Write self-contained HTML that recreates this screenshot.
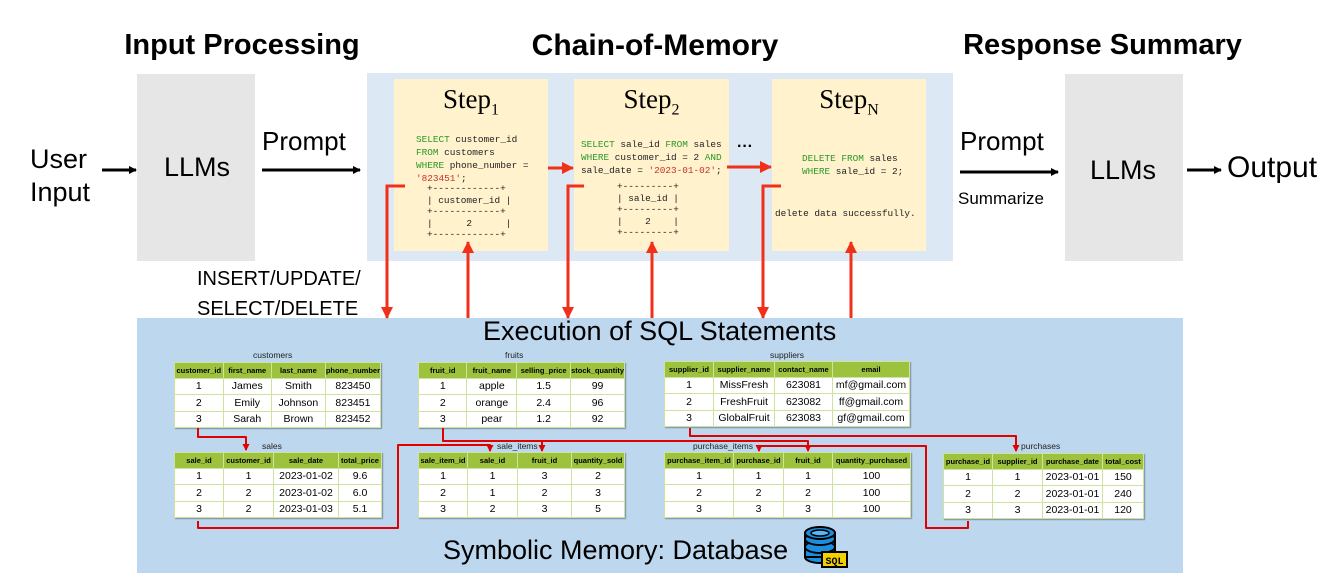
<!DOCTYPE html>
<html><head><meta charset="utf-8">
<style>
body{margin:0;width:1340px;height:586px;background:#fff;position:relative;overflow:hidden;font-family:"Liberation Sans",sans-serif}
.a{position:absolute}
.h{font-weight:bold;font-size:29px;color:#000;text-align:center}
.t{font-size:27px;color:#000}
.step{background:#fff2cc;position:absolute;top:79px;height:172px}
.st{font-family:"Liberation Serif",serif;font-size:27px;text-align:center;margin-top:5px}
.st sub{font-size:16px}
.code{font-family:"Liberation Mono",monospace;font-size:9.4px;line-height:13px;white-space:pre;color:#222;position:absolute}
.g{color:#2a9a2a}.r{color:#c8302a}
table{border-collapse:collapse;position:absolute;font-size:10.5px;box-shadow:1px 1px 1px rgba(0,0,0,.35)}
td{background:#fff;border:1px solid #cfe3a0;text-align:center;height:15.5px;padding:0}
th{background:#9dc23d;border:1px solid #cfe3a0;font-size:7.5px;height:14.5px;padding:0}
.tn{position:absolute;font-size:8.5px;color:#222}
</style></head><body>
<div class="a" style="left:367px;top:73px;width:586px;height:188px;background:#dde8f5"></div>
<div class="a" style="left:137px;top:74px;width:118px;height:187px;background:#e6e6e6"></div>
<div class="a" style="left:1065px;top:74px;width:118px;height:187px;background:#e6e6e6"></div>
<div class="a" style="left:137px;top:318px;width:1046px;height:255px;background:#bdd7ee"></div>

<div class="a h" style="left:92px;top:29px;width:300px">Input Processing</div>
<div class="a h" style="left:495px;top:29px;width:320px;font-size:30px">Chain-of-Memory</div>
<div class="a h" style="left:950px;top:29px;width:305px">Response Summary</div>

<div class="a t" style="left:30px;top:143px;line-height:33px">User<br>Input</div>
<div class="a t" style="left:164px;top:152px">LLMs</div>
<div class="a t" style="left:262px;top:126px;font-size:26px">Prompt</div>
<div class="a t" style="left:960px;top:126px;font-size:26px">Prompt</div>
<div class="a" style="left:958px;top:189px;font-size:17px">Summarize</div>
<div class="a t" style="left:1090px;top:155px">LLMs</div>
<div class="a t" style="left:1227px;top:151px;font-size:30px">Output</div>
<div class="a" style="left:197px;top:264px;font-size:20px;line-height:30px">INSERT/UPDATE/<br>SELECT/DELETE</div>
<div class="a" style="left:483px;top:316px;font-size:27px">Execution of SQL Statements</div>
<div class="a" style="left:443px;top:535px;font-size:27px">Symbolic Memory: Database</div>

<div class="step" style="left:394px;width:154px"><div class="st">Step<sub>1</sub></div></div>
<div class="step" style="left:574px;width:155px"><div class="st">Step<sub>2</sub></div></div>
<div class="step" style="left:772px;width:154px"><div class="st">Step<sub>N</sub></div></div>
<div class="code" style="left:416px;top:133px"><span class="g">SELECT</span> customer_id
<span class="g">FROM</span> customers
<span class="g">WHERE</span> phone_number =
<span class="r">'823451'</span>;</div>
<div class="code" style="left:427px;top:183px;line-height:11.5px">+------------+
| customer_id |
+------------+
|      2      |
+------------+</div>
<div class="code" style="left:581px;top:138px"><span class="g">SELECT</span> sale_id <span class="g">FROM</span> sales
<span class="g">WHERE</span> customer_id = 2 <span class="g">AND</span>
sale_date = <span class="r">'2023-01-02'</span>;</div>
<div class="code" style="left:617px;top:181px;line-height:11.5px">+---------+
| sale_id |
+---------+
|    2    |
+---------+</div>
<div class="code" style="left:802px;top:152px"><span class="g">DELETE FROM</span> sales
<span class="g">WHERE</span> sale_id = 2;</div>
<div class="code" style="left:775px;top:207px">delete data successfully.</div>
<div class="a" style="left:737px;top:138px;font-size:16px;font-weight:bold">&middot;&middot;&middot;</div>

<!-- tables -->
<div class="tn" style="left:253px;top:350px">customers</div>
<table style="left:174px;top:362px;width:207px"><tr><th style="width:48px">customer_id</th><th style="width:49px">first_name</th><th style="width:55px">last_name</th><th>phone_number</th></tr>
<tr><td>1</td><td>James</td><td>Smith</td><td>823450</td></tr><tr><td>2</td><td>Emily</td><td>Johnson</td><td>823451</td></tr><tr><td>3</td><td>Sarah</td><td>Brown</td><td>823452</td></tr></table>
<div class="tn" style="left:505px;top:350px">fruits</div>
<table style="left:418px;top:362px;width:207px"><tr><th style="width:48px">fruit_id</th><th style="width:49px">fruit_name</th><th style="width:53px">selling_price</th><th>stock_quantity</th></tr>
<tr><td>1</td><td>apple</td><td>1.5</td><td>99</td></tr><tr><td>2</td><td>orange</td><td>2.4</td><td>96</td></tr><tr><td>3</td><td>pear</td><td>1.2</td><td>92</td></tr></table>
<div class="tn" style="left:770px;top:350px">suppliers</div>
<table style="left:664px;top:361px;width:246px"><tr><th style="width:48px">supplier_id</th><th style="width:60px">supplier_name</th><th style="width:57px">contact_name</th><th>email</th></tr>
<tr><td>1</td><td>MissFresh</td><td>623081</td><td>mf@gmail.com</td></tr><tr><td>2</td><td>FreshFruit</td><td>623082</td><td>ff@gmail.com</td></tr><tr><td>3</td><td>GlobalFruit</td><td>623083</td><td>gf@gmail.com</td></tr></table>

<div class="tn" style="left:262px;top:441px">sales</div>
<table style="left:174px;top:452px;width:208px"><tr><th style="width:48px">sale_id</th><th style="width:49px">customer_id</th><th style="width:64px">sale_date</th><th>total_price</th></tr>
<tr><td>1</td><td>1</td><td>2023-01-02</td><td>9.6</td></tr><tr><td>2</td><td>2</td><td>2023-01-02</td><td>6.0</td></tr><tr><td>3</td><td>2</td><td>2023-01-03</td><td>5.1</td></tr></table>
<div class="tn" style="left:497px;top:441px">sale_items</div>
<table style="left:418px;top:452px;width:207px"><tr><th style="width:48px">sale_item_id</th><th style="width:49px">sale_id</th><th style="width:53px">fruit_id</th><th>quantity_sold</th></tr>
<tr><td>1</td><td>1</td><td>3</td><td>2</td></tr><tr><td>2</td><td>1</td><td>2</td><td>3</td></tr><tr><td>3</td><td>2</td><td>3</td><td>5</td></tr></table>
<div class="tn" style="left:693px;top:441px">purchase_items</div>
<table style="left:664px;top:452px;width:247px"><tr><th style="width:68px">purchase_item_id</th><th style="width:49px">purchase_id</th><th style="width:48px">fruit_id</th><th>quantity_purchased</th></tr>
<tr><td>1</td><td>1</td><td>1</td><td>100</td></tr><tr><td>2</td><td>2</td><td>2</td><td>100</td></tr><tr><td>3</td><td>3</td><td>3</td><td>100</td></tr></table>
<div class="tn" style="left:1021px;top:441px">purchases</div>
<table style="left:943px;top:453px;width:201px"><tr><th style="width:48px">purchase_id</th><th style="width:49px">supplier_id</th><th style="width:59px">purchase_date</th><th>total_cost</th></tr>
<tr><td>1</td><td>1</td><td>2023-01-01</td><td>150</td></tr><tr><td>2</td><td>2</td><td>2023-01-01</td><td>240</td></tr><tr><td>3</td><td>3</td><td>2023-01-01</td><td>120</td></tr></table>

<svg class="a" style="left:0;top:0" width="1340" height="586">
<defs>
<marker id="k" markerWidth="8" markerHeight="8" refX="7" refY="4" orient="auto" markerUnits="userSpaceOnUse"><path d="M0,0L8,4L0,8z" fill="#000"/></marker>
<marker id="rr" markerWidth="12" markerHeight="12" refX="11" refY="6" orient="auto" markerUnits="userSpaceOnUse"><path d="M0,0L12,6L0,12z" fill="#f03018"/></marker>
<marker id="rs" markerWidth="7" markerHeight="7" refX="6" refY="3.5" orient="auto" markerUnits="userSpaceOnUse"><path d="M0,0L7,3.5L0,7z" fill="#e00000"/></marker>
</defs>
<g stroke="#000" stroke-width="3" fill="none">
<line x1="102" y1="170" x2="136" y2="170" marker-end="url(#k)"/>
<line x1="262" y1="170" x2="360" y2="170" marker-end="url(#k)"/>
<line x1="960" y1="172" x2="1058" y2="172" marker-end="url(#k)"/>
<line x1="1187" y1="170" x2="1221" y2="170" marker-end="url(#k)"/>
</g>
<g stroke="#f03018" stroke-width="3" fill="none">
<line x1="548" y1="168" x2="573" y2="168" marker-end="url(#rr)"/>
<line x1="727" y1="167" x2="771" y2="167" marker-end="url(#rr)"/>
<polyline points="405,186 387,186 387,318" marker-end="url(#rr)"/>
<polyline points="584,186 568,186 568,318" marker-end="url(#rr)"/>
<polyline points="781,186 763,186 763,318" marker-end="url(#rr)"/>
<line x1="468" y1="318" x2="468" y2="242" marker-end="url(#rr)"/>
<line x1="652" y1="318" x2="652" y2="242" marker-end="url(#rr)"/>
<line x1="851" y1="318" x2="851" y2="242" marker-end="url(#rr)"/>
</g>
<g stroke="#e00000" stroke-width="2" fill="none" stroke-linejoin="round">
<polyline points="198,428 198,437 246,437 246,450" marker-end="url(#rs)"/>
<polyline points="443,428 443,441 808,441 808,451" marker-end="url(#rs)"/>
<polyline points="542,441 542,451" marker-end="url(#rs)"/>
<polyline points="198,521 198,528 398,528 398,445 490,445 490,451" marker-end="url(#rs)"/>
<polyline points="690,428 690,436 1016,436 1016,451" marker-end="url(#rs)"/>
<polyline points="968,521 968,528 926,528 926,446 759,446 759,451" marker-end="url(#rs)"/>
</g>
<g transform="translate(803,527)">
<ellipse cx="17" cy="30" rx="15" ry="6" fill="#1a8fe0" stroke="#000" stroke-width="2"/>
<rect x="2" y="6" width="30" height="24" fill="#1a8fe0" stroke="#000" stroke-width="2"/>
<ellipse cx="17" cy="20" rx="15" ry="6" fill="#1a8fe0" stroke="#000" stroke-width="2"/>
<ellipse cx="17" cy="12" rx="15" ry="6" fill="#1a8fe0" stroke="#000" stroke-width="2"/>
<ellipse cx="17" cy="6" rx="15" ry="6" fill="#1a8fe0" stroke="#000" stroke-width="2"/>
<ellipse cx="17" cy="6" rx="9" ry="3" fill="#5bb6f0" stroke="#000" stroke-width="1.5"/>
<rect x="19" y="25" width="25" height="15" fill="#f5d000" stroke="#000" stroke-width="2"/>
<text x="31.5" y="37" font-family="Liberation Mono,monospace" font-size="10" font-weight="bold" text-anchor="middle">SQL</text>
</g>
</svg>
</body></html>
